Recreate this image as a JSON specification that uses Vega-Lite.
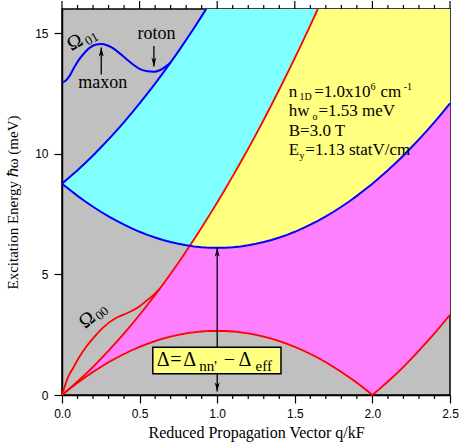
{
  "$schema": "https://vega.github.io/schema/vega-lite/v6.json",
  "autosize": {"type": "none"},
  "padding": {"left": 62, "top": 9, "right": 13, "bottom": 47},
  "width": 388,
  "height": 386,
  "config": {"view": {"fill": "#c0c0c0", "stroke": "black", "strokeWidth": 1.5}},
  "datasets": {
    "curves": [
      {"q":0.00,"para":8.760,"up":8.760,"red":0.000,"low":0.000,"magTop":0.000,"cyanBot":8.760},
      {"q":0.05,"para":8.507,"up":9.033,"red":0.273,"low":0.259,"magTop":0.273,"cyanBot":8.507},
      {"q":0.10,"para":8.255,"up":9.319,"red":0.559,"low":0.505,"magTop":0.559,"cyanBot":8.255},
      {"q":0.15,"para":8.022,"up":9.618,"red":0.858,"low":0.738,"magTop":0.858,"cyanBot":8.022},
      {"q":0.20,"para":7.802,"up":9.930,"red":1.170,"low":0.958,"magTop":1.170,"cyanBot":7.802},
      {"q":0.25,"para":7.596,"up":10.256,"red":1.496,"low":1.164,"magTop":1.496,"cyanBot":7.596},
      {"q":0.30,"para":7.403,"up":10.595,"red":1.835,"low":1.357,"magTop":1.835,"cyanBot":7.403},
      {"q":0.35,"para":7.224,"up":10.948,"red":2.188,"low":1.536,"magTop":2.188,"cyanBot":7.224},
      {"q":0.40,"para":7.058,"up":11.314,"red":2.554,"low":1.702,"magTop":2.554,"cyanBot":7.058},
      {"q":0.45,"para":6.905,"up":11.693,"red":2.933,"low":1.855,"magTop":2.933,"cyanBot":6.905},
      {"q":0.50,"para":6.765,"up":12.085,"red":3.325,"low":1.995,"magTop":3.325,"cyanBot":6.765},
      {"q":0.55,"para":6.639,"up":12.491,"red":3.731,"low":2.121,"magTop":3.731,"cyanBot":6.639},
      {"q":0.60,"para":6.526,"up":12.910,"red":4.150,"low":2.234,"magTop":4.150,"cyanBot":6.526},
      {"q":0.65,"para":6.426,"up":13.342,"red":4.582,"low":2.334,"magTop":4.582,"cyanBot":6.426},
      {"q":0.70,"para":6.339,"up":13.787,"red":5.027,"low":2.421,"magTop":5.027,"cyanBot":6.339},
      {"q":0.75,"para":6.266,"up":14.246,"red":5.486,"low":2.494,"magTop":5.486,"cyanBot":6.266},
      {"q":0.80,"para":6.206,"up":14.718,"red":5.958,"low":2.554,"magTop":5.958,"cyanBot":6.206},
      {"q":0.8233,"para":6.183,"up":14.943,"red":6.183,"low":2.577,"magTop":6.183,"cyanBot":6.183},
      {"q":0.85,"para":6.160,"up":15.204,"red":6.444,"low":2.600,"magTop":6.160,"cyanBot":6.444},
      {"q":0.90,"para":6.127,"up":15.703,"red":6.943,"low":2.633,"magTop":6.127,"cyanBot":6.943},
      {"q":0.9292,"para":6.113,"up":16.000,"red":7.240,"low":2.647,"magTop":6.113,"cyanBot":7.240},
      {"q":0.95,"para":6.107,"up":16.215,"red":7.455,"low":2.653,"magTop":6.107,"cyanBot":7.455},
      {"q":1.00,"para":6.100,"up":16.740,"red":7.980,"low":2.660,"magTop":6.100,"cyanBot":7.980},
      {"q":1.05,"para":6.107,"up":17.279,"red":8.519,"low":2.653,"magTop":6.107,"cyanBot":8.519},
      {"q":1.10,"para":6.127,"up":17.831,"red":9.071,"low":2.633,"magTop":6.127,"cyanBot":9.071},
      {"q":1.15,"para":6.160,"up":18.396,"red":9.636,"low":2.600,"magTop":6.160,"cyanBot":9.636},
      {"q":1.20,"para":6.206,"up":18.974,"red":10.214,"low":2.554,"magTop":6.206,"cyanBot":10.214},
      {"q":1.25,"para":6.266,"up":19.566,"red":10.806,"low":2.494,"magTop":6.266,"cyanBot":10.806},
      {"q":1.30,"para":6.339,"up":20.171,"red":11.411,"low":2.421,"magTop":6.339,"cyanBot":11.411},
      {"q":1.35,"para":6.426,"up":20.790,"red":12.030,"low":2.334,"magTop":6.426,"cyanBot":12.030},
      {"q":1.40,"para":6.526,"up":21.422,"red":12.662,"low":2.234,"magTop":6.526,"cyanBot":12.662},
      {"q":1.45,"para":6.639,"up":22.067,"red":13.307,"low":2.121,"magTop":6.639,"cyanBot":13.307},
      {"q":1.50,"para":6.765,"up":22.725,"red":13.965,"low":1.995,"magTop":6.765,"cyanBot":13.965},
      {"q":1.55,"para":6.905,"up":23.397,"red":14.637,"low":1.855,"magTop":6.905,"cyanBot":14.637},
      {"q":1.60,"para":7.058,"up":24.082,"red":15.322,"low":1.702,"magTop":7.058,"cyanBot":15.322},
      {"q":1.6486,"para":7.219,"up":24.760,"red":16.000,"low":1.541,"magTop":7.219,"cyanBot":16.000},
      {"q":1.70,"para":7.403,"up":25.490,"red":16.731,"low":1.357,"magTop":7.403,"cyanBot":16.731},
      {"q":1.75,"para":7.596,"up":26.216,"red":17.456,"low":1.164,"magTop":7.596,"cyanBot":17.456},
      {"q":1.80,"para":7.802,"up":26.954,"red":18.194,"low":0.958,"magTop":7.802,"cyanBot":18.194},
      {"q":1.85,"para":8.022,"up":27.706,"red":18.946,"low":0.738,"magTop":8.022,"cyanBot":18.946},
      {"q":1.90,"para":8.255,"up":28.471,"red":19.711,"low":0.505,"magTop":8.255,"cyanBot":19.711},
      {"q":1.95,"para":8.507,"up":29.249,"red":20.489,"low":0.259,"magTop":8.507,"cyanBot":20.489},
      {"q":2.00,"para":8.760,"up":30.040,"red":21.280,"low":0.000,"magTop":8.760,"cyanBot":21.280},
      {"q":2.05,"para":9.033,"up":30.845,"red":22.085,"low":0.273,"magTop":9.033,"cyanBot":22.085},
      {"q":2.10,"para":9.319,"up":31.663,"red":22.903,"low":0.559,"magTop":9.319,"cyanBot":22.903},
      {"q":2.15,"para":9.618,"up":32.494,"red":23.734,"low":0.858,"magTop":9.618,"cyanBot":23.734},
      {"q":2.20,"para":9.930,"up":33.338,"red":24.578,"low":1.170,"magTop":9.930,"cyanBot":24.578},
      {"q":2.25,"para":10.256,"up":34.196,"red":25.436,"low":1.496,"magTop":10.256,"cyanBot":25.436},
      {"q":2.30,"para":10.595,"up":35.067,"red":26.307,"low":1.835,"magTop":10.595,"cyanBot":26.307},
      {"q":2.35,"para":10.948,"up":35.952,"red":27.192,"low":2.188,"magTop":10.948,"cyanBot":27.192},
      {"q":2.40,"para":11.314,"up":36.850,"red":28.090,"low":2.554,"magTop":11.314,"cyanBot":28.090},
      {"q":2.45,"para":11.693,"up":37.761,"red":29.001,"low":2.933,"magTop":11.693,"cyanBot":29.001},
      {"q":2.50,"para":12.085,"up":38.685,"red":29.925,"low":3.325,"magTop":12.085,"cyanBot":29.925}
    ],
    "omega01": [
      {"q":0,"E":12.96},{"q":0.025,"E":13.04},{"q":0.05,"E":13.24},{"q":0.08,"E":13.6},
      {"q":0.113,"E":13.93},{"q":0.15,"E":14.22},{"q":0.18,"E":14.4},{"q":0.215,"E":14.52},
      {"q":0.253,"E":14.55},{"q":0.29,"E":14.5},{"q":0.328,"E":14.38},{"q":0.37,"E":14.17},
      {"q":0.414,"E":13.93},{"q":0.46,"E":13.69},{"q":0.5,"E":13.52},{"q":0.55,"E":13.42},
      {"q":0.592,"E":13.4},{"q":0.63,"E":13.46},{"q":0.665,"E":13.6},{"q":0.7,"E":13.787}
    ],
    "omega00": [
      {"q":0,"E":0},{"q":0.02,"E":0.4},{"q":0.04,"E":0.75},{"q":0.07,"E":1.1},
      {"q":0.1,"E":1.45},{"q":0.156,"E":2.0},{"q":0.2,"E":2.35},{"q":0.263,"E":2.78},
      {"q":0.307,"E":3.02},{"q":0.36,"E":3.23},{"q":0.414,"E":3.38},{"q":0.46,"E":3.52},
      {"q":0.5,"E":3.68},{"q":0.543,"E":3.9},{"q":0.59,"E":4.15},{"q":0.63,"E":4.407}
    ],
    "xMinor": [{"q":0.1},{"q":0.2},{"q":0.3},{"q":0.4},{"q":0.6},{"q":0.7},{"q":0.8},{"q":0.9},{"q":1.1},{"q":1.2},{"q":1.3},{"q":1.4},{"q":1.6},{"q":1.7},{"q":1.8},{"q":1.9},{"q":2.1},{"q":2.2},{"q":2.3},{"q":2.4}],
    "xMajor": [{"q":0},{"q":0.5},{"q":1},{"q":1.5},{"q":2},{"q":2.5}],
    "yMajor": [{"E":0},{"E":5},{"E":10},{"E":15}],
    "yMinor": [{"E":1},{"E":2},{"E":3},{"E":4},{"E":6},{"E":7},{"E":8},{"E":9},{"E":11},{"E":12},{"E":13},{"E":14},{"E":16}],
    "arrows": [
      {"q":1.0,"E":0.15,"E2":6.1},
      {"q":0.253,"E":13.28,"E2":14.4},
      {"q":0.592,"E":14.47,"E2":13.62}
    ],
    "headsUp": [{"q":1.0,"E":6.1},{"q":0.253,"E":14.4}],
    "headsDown": [{"q":1.0,"E":0.15},{"q":0.592,"E":13.62}],
    "box": [{"q":0.585,"q2":1.411,"E":0.88,"E2":1.975}],
    "mainText": [
      {"q":1.461,"E":12.339,"t":"n"},
      {"q":1.625,"E":12.339,"t":"=1.0x10"},
      {"q":2.052,"E":12.339,"t":"cm"},
      {"q":1.461,"E":11.570,"t":"hw"},
      {"q":1.652,"E":11.570,"t":"=1.53 meV"},
      {"q":1.461,"E":10.727,"t":"B=3.0 T"},
      {"q":1.461,"E":9.959,"t":"E"},
      {"q":1.568,"E":9.959,"t":"=1.13 statV/cm"}
    ],
    "smallText": [
      {"q":1.530,"E":12.244,"t":"1D"},
      {"q":1.988,"E":12.628,"t":"6"},
      {"q":2.202,"E":12.628,"t":"-1"},
      {"q":1.614,"E":11.405,"t":"o"},
      {"q":1.530,"E":9.793,"t":"y"}
    ],
    "arrowLabels": [
      {"q":0.263,"E":12.73,"t":"maxon"},
      {"q":0.609,"E":14.74,"t":"roton"}
    ],
    "deltaMain": [
      {"q":0.652,"E":1.211,"t":"Δ"},
      {"q":0.734,"E":1.211,"t":"="},
      {"q":0.822,"E":1.211,"t":"Δ"},
      {"q":1.079,"E":1.211,"t":"−"},
      {"q":1.179,"E":1.211,"t":"Δ"}
    ],
    "deltaSub": [
      {"q":0.942,"E":1.004,"t":"nn'"},
      {"q":1.300,"E":1.004,"t":"eff"}
    ],
    "omegaBig01": [{"q":0.084,"E":14.62,"t":"Ω"}],
    "omegaSub01": [{"q":0.191,"E":14.76,"t":"01"}],
    "omegaBig00": [{"q":0.162,"E":3.11,"t":"Ω"}],
    "omegaSub00": [{"q":0.258,"E":3.38,"t":"00"}]
  },
  "encoding": {
    "x": {"field": "q", "type": "quantitative", "scale": {"domain": [0, 2.5], "nice": false, "zero": false, "clamp": true}}
  },
  "layer": [
    {
      "data": {"name": "curves"},
      "mark": {"type": "area", "color": "#ff80ff", "opacity": 1},
      "encoding": {
        "x": {"field": "q", "type": "quantitative", "scale": {"domain": [0, 2.5], "nice": false, "zero": false, "clamp": true},
          "axis": {
            "orient": "bottom",
            "values": [0, 0.5, 1, 1.5, 2, 2.5],
            "format": ".1f",
            "domain": true, "ticks": true, "labels": true,
            "tickSize": 8,
            "labelFont": "Liberation Sans", "labelFontSize": 12, "labelColor": "black", "labelPadding": 5,
            "labelFlush": false, "labelOverlap": false,
            "title": "Reduced Propagation Vector q/kF", "titleFont": "Liberation Serif", "titleFontSize": 16,
            "titleFontWeight": "normal", "titleColor": "black", "titlePadding": 5,
            "grid": false, "domainColor": "black", "domainWidth": 1.5, "tickColor": "black", "tickWidth": 1.2
          }},
        "y": {"field": "low", "type": "quantitative", "scale": {"domain": [0, 16], "nice": false, "zero": false, "clamp": true},
          "axis": {
            "orient": "left",
            "values": [0, 5, 10, 15],
            "domain": true, "ticks": true, "labels": true,
            "tickSize": 8,
            "labelFont": "Liberation Sans", "labelFontSize": 12, "labelColor": "black", "labelPadding": 6,
            "labelFlush": false, "labelOverlap": false,
            "title": "Excitation Energy ℏω (meV)", "titleFont": "Liberation Serif", "titleFontSize": 15,
            "titleFontWeight": "normal", "titleColor": "black", "titlePadding": 14,
            "grid": false, "domainColor": "black", "domainWidth": 1.5, "tickColor": "black", "tickWidth": 1.2
          }},
        "y2": {"field": "magTop"}
      }
    },
    {
      "data": {"name": "curves"},
      "mark": {"type": "area", "color": "#80ffff", "opacity": 1},
      "encoding": {
        "y": {"field": "cyanBot", "type": "quantitative", "scale": {"domain": [0, 16], "nice": false, "zero": false, "clamp": true}},
        "y2": {"field": "up"}
      }
    },
    {
      "data": {"name": "curves"},
      "mark": {"type": "area", "color": "#ffff80", "opacity": 1},
      "encoding": {
        "y": {"field": "para", "type": "quantitative", "scale": {"domain": [0, 16], "nice": false, "zero": false, "clamp": true}},
        "y2": {"field": "cyanBot"}
      }
    },
    {
      "data": {"name": "curves"},
      "transform": [{"filter": "datum.q <= 1.6486"}],
      "mark": {"type": "line", "color": "#ff0000", "strokeWidth": 1.8},
      "encoding": {
        "y": {"field": "red", "type": "quantitative", "scale": {"domain": [0, 16], "nice": false, "zero": false, "clamp": true}}
      }
    },
    {
      "data": {"name": "curves"},
      "mark": {"type": "line", "color": "#ff0000", "strokeWidth": 1.8},
      "encoding": {
        "y": {"field": "low", "type": "quantitative", "scale": {"domain": [0, 16], "nice": false, "zero": false, "clamp": true}}
      }
    },
    {
      "data": {"name": "omega00"},
      "mark": {"type": "line", "color": "#ff0000", "strokeWidth": 1.8, "interpolate": "monotone"},
      "encoding": {
        "y": {"field": "E", "type": "quantitative", "scale": {"domain": [0, 16], "nice": false, "zero": false, "clamp": true}}
      }
    },
    {
      "data": {"name": "curves"},
      "mark": {"type": "line", "color": "#0000ff", "strokeWidth": 2},
      "encoding": {
        "y": {"field": "para", "type": "quantitative", "scale": {"domain": [0, 16], "nice": false, "zero": false, "clamp": true}}
      }
    },
    {
      "data": {"name": "curves"},
      "transform": [{"filter": "datum.q <= 0.9292"}],
      "mark": {"type": "line", "color": "#0000ff", "strokeWidth": 2},
      "encoding": {
        "y": {"field": "up", "type": "quantitative", "scale": {"domain": [0, 16], "nice": false, "zero": false, "clamp": true}}
      }
    },
    {
      "data": {"name": "omega01"},
      "mark": {"type": "line", "color": "#0000ff", "strokeWidth": 2, "interpolate": "monotone"},
      "encoding": {
        "y": {"field": "E", "type": "quantitative", "scale": {"domain": [0, 16], "nice": false, "zero": false, "clamp": true}}
      }
    },
    {
      "data": {"name": "xMinor"},
      "mark": {"type": "rule", "color": "black", "strokeWidth": 1.2, "y2Offset": 4},
      "encoding": {
        "y": {"datum": 0, "type": "quantitative", "scale": {"domain": [0, 16], "nice": false, "zero": false, "clamp": true}},
        "y2": {"datum": 0}
      }
    },
    {
      "data": {"name": "xMinor"},
      "mark": {"type": "rule", "color": "black", "strokeWidth": 1.2, "y2Offset": -4},
      "encoding": {
        "y": {"datum": 16, "type": "quantitative", "scale": {"domain": [0, 16], "nice": false, "zero": false, "clamp": true}},
        "y2": {"datum": 16}
      }
    },
    {
      "data": {"name": "xMajor"},
      "mark": {"type": "rule", "color": "black", "strokeWidth": 1.2, "y2Offset": -8},
      "encoding": {
        "y": {"datum": 16, "type": "quantitative", "scale": {"domain": [0, 16], "nice": false, "zero": false, "clamp": true}},
        "y2": {"datum": 16}
      }
    },
    {
      "data": {"name": "yMinor"},
      "mark": {"type": "rule", "color": "black", "strokeWidth": 1.2, "x2Offset": -4},
      "encoding": {
        "x": {"datum": 0, "type": "quantitative", "scale": {"domain": [0, 2.5], "nice": false, "zero": false, "clamp": true}},
        "x2": {"datum": 0},
        "y": {"field": "E", "type": "quantitative", "scale": {"domain": [0, 16], "nice": false, "zero": false, "clamp": true}}
      }
    },
    {
      "data": {"name": "yMinor"},
      "mark": {"type": "rule", "color": "black", "strokeWidth": 1.2, "x2Offset": 4},
      "encoding": {
        "x": {"datum": 2.5, "type": "quantitative", "scale": {"domain": [0, 2.5], "nice": false, "zero": false, "clamp": true}},
        "x2": {"datum": 2.5},
        "y": {"field": "E", "type": "quantitative", "scale": {"domain": [0, 16], "nice": false, "zero": false, "clamp": true}}
      }
    },
    {
      "data": {"name": "yMajor"},
      "mark": {"type": "rule", "color": "black", "strokeWidth": 1.2, "x2Offset": 8},
      "encoding": {
        "x": {"datum": 2.5, "type": "quantitative", "scale": {"domain": [0, 2.5], "nice": false, "zero": false, "clamp": true}},
        "x2": {"datum": 2.5},
        "y": {"field": "E", "type": "quantitative", "scale": {"domain": [0, 16], "nice": false, "zero": false, "clamp": true}}
      }
    },
    {
      "data": {"name": "arrows"},
      "mark": {"type": "rule", "color": "black", "strokeWidth": 1.3},
      "encoding": {
        "y": {"field": "E", "type": "quantitative", "scale": {"domain": [0, 16], "nice": false, "zero": false, "clamp": true}},
        "y2": {"field": "E2"}
      }
    },
    {
      "data": {"name": "box"},
      "mark": {"type": "rect", "fill": "#ffff80", "stroke": "black", "strokeWidth": 1.5},
      "encoding": {
        "x2": {"field": "q2"},
        "y": {"field": "E", "type": "quantitative", "scale": {"domain": [0, 16], "nice": false, "zero": false, "clamp": true}},
        "y2": {"field": "E2"}
      }
    },
    {
      "data": {"name": "headsUp"},
      "mark": {"type": "point", "shape": "M0,0L0.55,2L0,1.45L-0.55,2Z", "filled": true, "color": "black", "size": 81, "opacity": 1, "strokeWidth": 0},
      "encoding": {
        "y": {"field": "E", "type": "quantitative", "scale": {"domain": [0, 16], "nice": false, "zero": false, "clamp": true}}
      }
    },
    {
      "data": {"name": "headsDown"},
      "mark": {"type": "point", "shape": "M0,0L0.55,-2L0,-1.45L-0.55,-2Z", "filled": true, "color": "black", "size": 81, "opacity": 1, "strokeWidth": 0},
      "encoding": {
        "y": {"field": "E", "type": "quantitative", "scale": {"domain": [0, 16], "nice": false, "zero": false, "clamp": true}}
      }
    },
    {
      "data": {"name": "mainText"},
      "mark": {"type": "text", "font": "Liberation Serif", "fontSize": 17, "color": "black", "align": "left", "baseline": "alphabetic"},
      "encoding": {
        "y": {"field": "E", "type": "quantitative", "scale": {"domain": [0, 16], "nice": false, "zero": false, "clamp": true}},
        "text": {"field": "t"}
      }
    },
    {
      "data": {"name": "smallText"},
      "mark": {"type": "text", "font": "Liberation Serif", "fontSize": 10, "color": "black", "align": "left", "baseline": "alphabetic"},
      "encoding": {
        "y": {"field": "E", "type": "quantitative", "scale": {"domain": [0, 16], "nice": false, "zero": false, "clamp": true}},
        "text": {"field": "t"}
      }
    },
    {
      "data": {"name": "arrowLabels"},
      "mark": {"type": "text", "font": "Liberation Serif", "fontSize": 18, "color": "black", "align": "center", "baseline": "alphabetic"},
      "encoding": {
        "y": {"field": "E", "type": "quantitative", "scale": {"domain": [0, 16], "nice": false, "zero": false, "clamp": true}},
        "text": {"field": "t"}
      }
    },
    {
      "data": {"name": "deltaMain"},
      "mark": {"type": "text", "font": "Liberation Serif", "fontSize": 20, "color": "black", "align": "center", "baseline": "alphabetic"},
      "encoding": {
        "y": {"field": "E", "type": "quantitative", "scale": {"domain": [0, 16], "nice": false, "zero": false, "clamp": true}},
        "text": {"field": "t"}
      }
    },
    {
      "data": {"name": "deltaSub"},
      "mark": {"type": "text", "font": "Liberation Serif", "fontSize": 15, "color": "black", "align": "center", "baseline": "alphabetic"},
      "encoding": {
        "y": {"field": "E", "type": "quantitative", "scale": {"domain": [0, 16], "nice": false, "zero": false, "clamp": true}},
        "text": {"field": "t"}
      }
    },
    {
      "data": {"name": "omegaBig01"},
      "mark": {"type": "text", "font": "Liberation Serif", "fontSize": 20, "color": "black", "align": "center", "baseline": "middle", "angle": -30},
      "encoding": {
        "y": {"field": "E", "type": "quantitative", "scale": {"domain": [0, 16], "nice": false, "zero": false, "clamp": true}},
        "text": {"field": "t"}
      }
    },
    {
      "data": {"name": "omegaSub01"},
      "mark": {"type": "text", "font": "Liberation Serif", "fontSize": 13, "color": "black", "align": "center", "baseline": "middle", "angle": -30},
      "encoding": {
        "y": {"field": "E", "type": "quantitative", "scale": {"domain": [0, 16], "nice": false, "zero": false, "clamp": true}},
        "text": {"field": "t"}
      }
    },
    {
      "data": {"name": "omegaBig00"},
      "mark": {"type": "text", "font": "Liberation Serif", "fontSize": 20, "color": "black", "align": "center", "baseline": "middle", "angle": -40},
      "encoding": {
        "y": {"field": "E", "type": "quantitative", "scale": {"domain": [0, 16], "nice": false, "zero": false, "clamp": true}},
        "text": {"field": "t"}
      }
    },
    {
      "data": {"name": "omegaSub00"},
      "mark": {"type": "text", "font": "Liberation Serif", "fontSize": 13, "color": "black", "align": "center", "baseline": "middle", "angle": -40},
      "encoding": {
        "y": {"field": "E", "type": "quantitative", "scale": {"domain": [0, 16], "nice": false, "zero": false, "clamp": true}},
        "text": {"field": "t"}
      }
    }
  ]
}
